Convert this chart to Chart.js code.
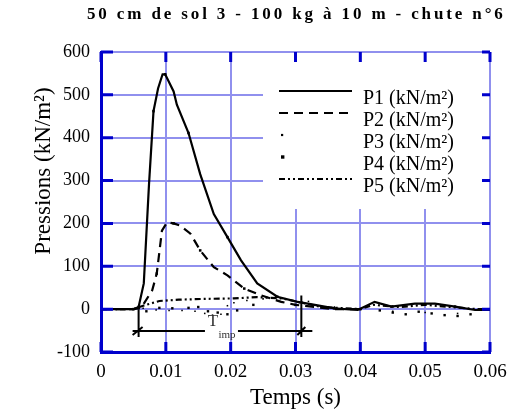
<!DOCTYPE html>
<html>
<head>
<meta charset="utf-8">
<script src="https://cdn.jsdelivr.net/npm/chart.js@4.4.1/dist/chart.umd.min.js"></script>
<style>
  html, body { margin: 0; padding: 0; background: #fff; }
  #wrap { width: 507px; height: 412px; }
</style>
</head>
<body>
<div id="wrap"><canvas id="chart"></canvas></div>
<script>
const chartTitle = '50 cm de sol 3 - 100 kg à 10 m - chute n°6';
const xTitle = 'Temps (s)';
const yTitle = 'Pressions (kN/m²)';
const seriesNames = ['P1 (kN/m²)', 'P2 (kN/m²)', 'P3 (kN/m²)', 'P4 (kN/m²)', 'P5 (kN/m²)'];

const xMin = 0, xMax = 0.06, xStep = 0.01;
const yMin = -100, yMax = 600, yStep = 100;

// P1 - solid
const p1Time  = [0, 0.0050, 0.0058, 0.0066, 0.0074, 0.0081, 0.0088, 0.0095, 0.0099, 0.0112, 0.0117, 0.0135, 0.0153, 0.0174, 0.0195, 0.0216, 0.0241, 0.0272, 0.0303, 0.0319, 0.0360, 0.0396, 0.0422, 0.0448, 0.0484, 0.0515, 0.0546, 0.0577, 0.0600];
const p1Value = [0, 0, 5, 60, 290, 462, 515, 548, 548, 508, 477, 411, 315, 222, 168, 114, 60, 29, 17, 13, 2, -2, 17, 6, 13, 13, 6, -2, -2];

// P2 - dashed
const p2Time  = [0, 0.0050, 0.0062, 0.0079, 0.0086, 0.0094, 0.0102, 0.0112, 0.0122, 0.0138, 0.0153, 0.0174, 0.0195, 0.0221, 0.0247, 0.0278, 0.0300, 0.0330, 0.0360, 0.0400];
const p2Value = [0, 0, 3, 44, 83, 183, 203, 200, 195, 176, 137, 98, 79, 48, 32, 17, 10, 5, 0, 0];

// P3 - small marks only
const p3Time  = [0.0065, 0.0085, 0.0105, 0.0125, 0.0145, 0.0160, 0.0172, 0.0185, 0.0195, 0.0205, 0.0225, 0.0250, 0.0280, 0.0320, 0.0360, 0.0450, 0.0500, 0.0550];
const p3Value = [2, -2, -3, -3, -5, -10, -14, -12, 8, 15, 20, 24, 25, 18, 5, -5, -8, -10];

// P4 - bigger marks only
const p4Time  = [0.0070, 0.0090, 0.0110, 0.0135, 0.0150, 0.0165, 0.0180, 0.0195, 0.0210, 0.0235, 0.0270, 0.0310, 0.0350, 0.0430, 0.0450, 0.0470, 0.0490, 0.0510, 0.0530, 0.0550, 0.0570];
const p4Value = [-5, 3, 2, 3, 5, -5, -8, -12, -3, 10, 28, 15, 4, -3, -8, -12, -6, -10, -14, -16, -12];

// P5 - dash dot dot
const p5Time  = [0, 0.0050, 0.0065, 0.0090, 0.0120, 0.0160, 0.0205, 0.0240, 0.0280, 0.0310, 0.0340, 0.0400, 0.0420, 0.0460, 0.0500, 0.0540, 0.0580, 0.0600];
const p5Value = [0, 0, 8, 19, 22, 24, 25, 28, 25, 15, 5, 0, 10, 5, 10, 5, 0, 0];

// T_imp annotation (start, end, level)
const timpBounds = [0.0058, 0.0309];
const timpLevel = -51;
const timpTextAt = 0.0185;

const toPoints = (t, v) => t.map((x, i) => ({ x: x, y: v[i] }));

const frameBlue = '#0000cc';
const gridBlue = '#9090ee';
const serif = '"Liberation Serif", "Times New Roman", serif';

const datasets = [
  { label: seriesNames[0], data: toPoints(p1Time, p1Value), borderColor: '#000', borderWidth: 2.2,
    pointRadius: c => (c.dataIndex % 3 === 2 ? 1.8 : 0), pointStyle: 'rect', pointBackgroundColor: '#000', pointBorderWidth: 0 },
  { label: seriesNames[1], data: toPoints(p2Time, p2Value), borderColor: '#000', borderWidth: 2.2, borderDash: [9, 6],
    pointRadius: c => (c.dataIndex % 3 === 1 ? 1.8 : 0), pointStyle: 'rect', pointBackgroundColor: '#000', pointBorderWidth: 0 },
  { label: seriesNames[2], data: toPoints(p3Time, p3Value), showLine: false,
    pointRadius: 1.1, pointStyle: 'rect', pointBackgroundColor: '#000', pointBorderWidth: 0 },
  { label: seriesNames[3], data: toPoints(p4Time, p4Value), showLine: false,
    pointRadius: 1.7, pointStyle: 'rect', pointBackgroundColor: '#000', pointBorderWidth: 0 },
  { label: seriesNames[4], data: toPoints(p5Time, p5Value), borderColor: '#000', borderWidth: 2.2, borderDash: [6, 3, 2, 3, 2, 3],
    pointRadius: 0 }
];

// legend drawn inside the plot on a white box
const legendBox = {
  id: 'legendBox',
  afterDatasetsDraw(chart) {
    const { ctx, chartArea } = chart;
    const left = chartArea.left + 162, top = chartArea.top + 7;
    ctx.save();
    ctx.fillStyle = '#fff';
    ctx.fillRect(left, top, chartArea.right - 2 - left, 150);
    ctx.font = '20px ' + serif;
    ctx.textBaseline = 'alphabetic';
    chart.data.datasets.forEach((ds, i) => {
      const yText = top + 45 + i * 22;
      const yLine = yText - 13;
      const x0 = left + 16, x1 = left + 89;
      ctx.strokeStyle = '#000';
      ctx.fillStyle = '#000';
      if (ds.showLine === false) {
        const s = ds.pointRadius * 2;
        ctx.fillRect(x0 + 2, yLine - s / 2, s, s);
      } else {
        ctx.lineWidth = ds.borderWidth;
        ctx.setLineDash(ds.borderDash || []);
        ctx.beginPath();
        ctx.moveTo(x0, yLine);
        ctx.lineTo(x1, yLine);
        ctx.stroke();
        ctx.setLineDash([]);
      }
      ctx.fillText(ds.label, left + 100, yText);
    });
    ctx.restore();
  }
};

const timpMark = {
  id: 'timpMark',
  afterDatasetsDraw(chart) {
    const { ctx, scales: { x, y } } = chart;
    const xa = x.getPixelForValue(timpBounds[0]);
    const xb = x.getPixelForValue(timpBounds[1]);
    const yl = y.getPixelForValue(timpLevel);
    const xm = x.getPixelForValue(timpTextAt);
    ctx.save();
    ctx.strokeStyle = '#000';
    ctx.lineWidth = 2;
    ctx.beginPath();
    ctx.moveTo(xa, y.getPixelForValue(0));
    ctx.lineTo(xa, yl + 6);
    ctx.moveTo(xb, y.getPixelForValue(32));
    ctx.lineTo(xb, yl + 6);
    ctx.moveTo(xa - 6, yl);
    ctx.lineTo(xm - 16, yl);
    ctx.moveTo(xm + 17, yl);
    ctx.lineTo(xb + 11, yl);
    ctx.moveTo(xa - 6, yl + 4);
    ctx.lineTo(xa + 4, yl - 4);
    ctx.moveTo(xb - 4, yl + 4);
    ctx.lineTo(xb + 4, yl - 4);
    ctx.stroke();
    ctx.fillStyle = '#333';
    ctx.textAlign = 'center';
    ctx.textBaseline = 'middle';
    ctx.font = '17px ' + serif;
    ctx.fillText('T', xm - 8, yl - 9);
    ctx.font = '11px ' + serif;
    ctx.fillText('imp', xm + 6, yl + 4);
    ctx.restore();
  }
};

// blue inner tick marks on the four sides + titles
const frameMarks = {
  id: 'frameMarks',
  afterDraw(chart) {
    const { ctx, chartArea: a, scales: { x, y } } = chart;
    ctx.save();
    ctx.strokeStyle = frameBlue;
    ctx.lineWidth = 3;
    ctx.beginPath();
    x.ticks.forEach(t => {
      const px = x.getPixelForValue(t.value);
      ctx.moveTo(px, a.top); ctx.lineTo(px, a.top + 10);
      ctx.moveTo(px, a.bottom); ctx.lineTo(px, a.bottom - 10);
    });
    y.ticks.forEach(t => {
      const py = y.getPixelForValue(t.value);
      ctx.moveTo(a.left, py); ctx.lineTo(a.left + 12, py);
      ctx.moveTo(a.right, py); ctx.lineTo(a.right - 8, py);
    });
    ctx.stroke();

    ctx.fillStyle = '#000';
    ctx.font = 'bold 17px ' + serif;
    ctx.textBaseline = 'middle';
    ctx.textAlign = 'left';
    const natural = ctx.measureText(chartTitle).width;
    const spacing = (416 - natural) / (chartTitle.length - 1);
    ctx.letterSpacing = spacing.toFixed(2) + 'px';
    ctx.fillText(chartTitle, 87, 15);
    ctx.letterSpacing = '0px';

    ctx.translate(44, 171);
    ctx.rotate(-Math.PI / 2);
    ctx.textAlign = 'center';
    ctx.font = '23px ' + serif;
    ctx.fillText(yTitle, 0, 0);
    ctx.restore();
  }
};

new Chart(document.getElementById('chart'), {
  type: 'line',
  data: { datasets: datasets },
  options: {
    responsive: true,
    maintainAspectRatio: false,
    animation: false,
    layout: { padding: { top: 52, right: 17, left: 0, bottom: 0 } },
    plugins: { legend: { display: false }, title: { display: false }, tooltip: { enabled: false } },
    elements: { line: { tension: 0 } },
    scales: {
      x: {
        type: 'linear', min: xMin, max: xMax,
        ticks: { stepSize: xStep, color: '#000', padding: 9, maxRotation: 0,
                 font: { family: serif, size: 19 }, callback: v => String(Math.round(v * 100) / 100) },
        grid: { color: gridBlue, lineWidth: 2, drawTicks: false },
        border: { display: true, color: frameBlue, width: 3 },
        title: { display: true, text: xTitle, color: '#000', font: { family: serif, size: 23 }, padding: { top: 0, bottom: 0 } },
        afterFit: s => { s.height = 60; s.paddingLeft = 0; s.paddingRight = 0; }
      },
      y: {
        min: yMin, max: yMax,
        ticks: { stepSize: yStep, color: '#000', padding: 11, font: { family: serif, size: 18 } },
        grid: { color: gridBlue, lineWidth: 2, drawTicks: false },
        border: { display: true, color: frameBlue, width: 3 },
        afterFit: s => { s.width = 101; s.paddingTop = 0; s.paddingBottom = 0; }
      }
    }
  },
  plugins: [timpMark, legendBox, frameMarks]
});
</script>
</body>
</html>
